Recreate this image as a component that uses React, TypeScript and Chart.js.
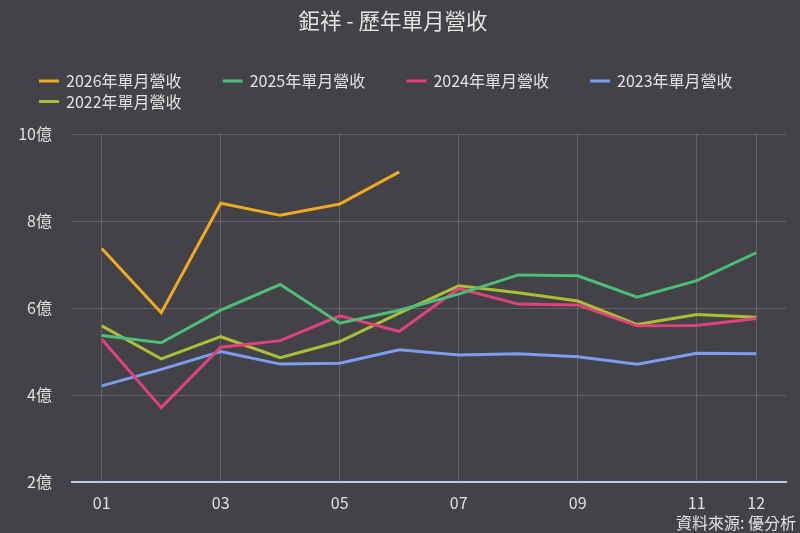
import React, { useEffect, useRef } from "react";
import { Chart, registerables } from "chart.js";

Chart.register(...registerables);

const TITLE = "鉅祥 - 歷年單月營收";
const SOURCE = "資料來源: 優分析";
const months = ["01", "02", "03", "04", "05", "06", "07", "08", "09", "10", "11", "12"];
const shownTicks = ["01", "03", "05", "07", "09", "11", "12"];
const seriesNames = ["2026年單月營收", "2025年單月營收", "2024年單月營收", "2023年單月營收", "2022年單月營收"];
const rev2026 = [7.37, 5.89, 8.41, 8.13, 8.39, 9.13];
const rev2025 = [5.37, 5.2, 5.95, 6.54, 5.65, 5.95, 6.32, 6.76, 6.74, 6.25, 6.63, 7.27];
const rev2024 = [5.28, 3.71, 5.1, 5.25, 5.82, 5.46, 6.45, 6.09, 6.07, 5.59, 5.6, 5.76];
const rev2023 = [4.21, 4.59, 5.0, 4.71, 4.73, 5.04, 4.92, 4.95, 4.88, 4.71, 4.96, 4.95];
const rev2022 = [5.59, 4.83, 5.34, 4.86, 5.23, 5.88, 6.51, 6.35, 6.16, 5.62, 5.85, 5.79];
const yTicksUnit = "億";

const COLORS = ["#f0a922", "#4dbd78", "#e0427a", "#7b9df0", "#aebd38"];
const BG = "#434247";
const FONT = "'Noto Sans CJK TC', 'Noto Sans', sans-serif";

export default function App() {
  const ref = useRef<HTMLCanvasElement | null>(null);

  useEffect(() => {
    document.body.style.margin = "0";
    const canvas = ref.current;
    if (!canvas) return;
    const seriesData = [rev2026, rev2025, rev2024, rev2023, rev2022];

    const decor = {
      id: "decor",
      beforeDraw(chart: any) {
        const ctx = chart.ctx;
        ctx.save();
        ctx.fillStyle = BG;
        ctx.fillRect(0, 0, chart.width, chart.height);
        ctx.restore();
      },
      afterDraw(chart: any) {
        const ctx = chart.ctx;
        ctx.save();
        ctx.fillStyle = "#e2e2e2";
        ctx.font = `21.5px ${FONT}`;
        ctx.textAlign = "center";
        ctx.textBaseline = "middle";
        ctx.fillText(TITLE, 393, 21);

        ctx.font = `16px ${FONT}`;
        ctx.textAlign = "left";
        seriesNames.forEach((name, i) => {
          const col = i % 4;
          const row = Math.floor(i / 4);
          const x = 39 + col * 183.7;
          const y = 81 + row * 20.5;
          ctx.strokeStyle = COLORS[i];
          ctx.lineWidth = 3;
          ctx.lineCap = "butt";
          ctx.beginPath();
          ctx.moveTo(x, y);
          ctx.lineTo(x + 20, y);
          ctx.stroke();
          ctx.fillStyle = "#e2e2e2";
          ctx.fillText(name, x + 27, y);
        });

        ctx.font = `16px ${FONT}`;
        ctx.textAlign = "right";
        ctx.fillText(SOURCE, 796, 523);
        ctx.restore();
      },
    };

    const chart = new Chart(canvas, {
      type: "line",
      data: {
        labels: months,
        datasets: seriesNames.map((name, i) => ({
          label: name,
          data: seriesData[i],
          borderColor: COLORS[i],
          backgroundColor: COLORS[i],
          borderWidth: 3,
          pointRadius: 0,
          pointHoverRadius: 0,
          tension: 0,
          fill: false,
        })),
      },
      options: {
        animation: false,
        responsive: true,
        maintainAspectRatio: false,
        layout: { padding: { top: 134, right: 14, left: 0, bottom: 0 } },
        plugins: {
          legend: { display: false },
          title: { display: false },
          tooltip: { enabled: false },
        },
        scales: {
          x: {
            offset: true,
            grid: {
              offset: false,
              color: "rgba(255,255,255,0.16)",
              drawTicks: false,
            },
            border: { color: "#b9cde2", width: 2 },
            ticks: {
              color: "#e0e0e0",
              font: { size: 16, family: FONT },
              padding: 11,
              autoSkip: false,
              maxRotation: 0,
              callback: function (this: any, value: any, index: number) {
                const lab = months[index];
                return shownTicks.includes(lab) ? lab : null;
              },
            },
            afterFit: (s: any) => {
              s.height = 51;
            },
          },
          y: {
            min: 2,
            max: 10,
            grid: { color: "rgba(255,255,255,0.16)", drawTicks: false },
            border: { display: false },
            ticks: {
              stepSize: 2,
              color: "#e0e0e0",
              font: { size: 16, family: FONT },
              padding: 20,
              callback: (v: any) => `${v}${yTicksUnit}`,
            },
            afterFit: (s: any) => {
              s.width = 72;
            },
          },
        },
      },
      plugins: [decor],
    });
    return () => chart.destroy();
  }, []);

  return (
    <div style={{ position: "fixed", left: 0, top: 0, width: "100vw", height: "100vh", background: BG }}>
      <canvas ref={ref} />
    </div>
  );
}
